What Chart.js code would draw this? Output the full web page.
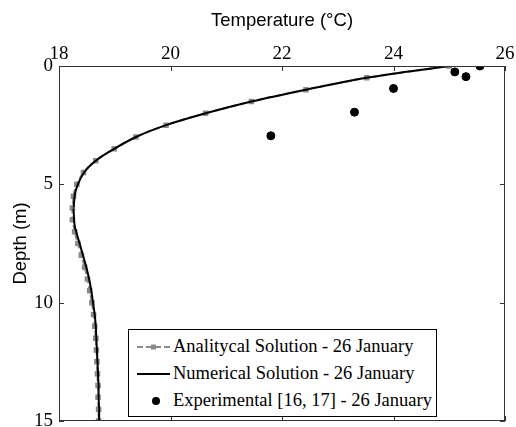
<!DOCTYPE html>
<html>
<head>
<meta charset="utf-8">
<script src="https://cdn.jsdelivr.net/npm/chart.js@4.4.1/dist/chart.umd.min.js"></script>
<style>
    html, body { margin: 0; padding: 0; background: #fff; }
    #wrap { position: relative; width: 516px; height: 427px; }
    #chart { display: block; }
    #legend {
        position: absolute; left: 128px; top: 329px; width: 307px; height: 86px;
        border: 1px solid #000; background: #fff;
        font-family: "Liberation Serif", "Times New Roman", serif; font-size: 18.5px; color: #000;
    }
    .legend-item { position: absolute; left: 0; height: 27px; display: flex; align-items: center; white-space: nowrap; }
    .legend-item svg { margin-left: 8px; margin-right: 3px; }
</style>
</head>
<body>
<div id="wrap">
    <canvas id="chart" width="516" height="427"></canvas>
    <div id="legend"></div>
</div>
<script>
// Depth (m), every 0.5 m
const depth = [0, 0.5, 1, 1.5, 2, 2.5, 3, 3.5, 4, 4.5, 5, 5.5, 6, 6.5, 7, 7.5,
    8, 8.5, 9, 9.5, 10, 10.5, 11, 11.5, 12, 12.5, 13, 13.5, 14, 14.5, 15];

// Temperature (°C)
const analytical = [25.0, 23.52, 22.43, 21.45, 20.63, 19.92, 19.38, 18.99, 18.66, 18.44,
    18.32, 18.26, 18.24, 18.24, 18.28, 18.34, 18.40, 18.46, 18.51, 18.55,
    18.59, 18.62, 18.64, 18.66, 18.67, 18.68, 18.69, 18.70, 18.70, 18.71, 18.71];
const numerical = [25.0, 23.52, 22.43, 21.45, 20.63, 19.92, 19.38, 18.99, 18.66, 18.45,
    18.34, 18.28, 18.26, 18.27, 18.31, 18.37, 18.43, 18.49, 18.54, 18.58,
    18.61, 18.64, 18.66, 18.67, 18.68, 18.69, 18.70, 18.71, 18.71, 18.72, 18.72];

// Experimental [16, 17]
const expDepth = [0, 0.25, 0.45, 0.95, 1.95, 2.95];
const expTemp = [25.55, 25.1, 25.3, 24.0, 23.3, 21.8];

const xTicks = [18, 20, 22, 24, 26];
const yTicks = [0, 5, 10, 15];

const labels = {
    analytical: 'Analitycal Solution - 26 January',
    numerical: 'Numerical Solution - 26 January',
    experimental: 'Experimental [16, 17] - 26 January'
};

function toPoints(xs, ys) {
    return xs.map((x, i) => ({ x: x, y: ys[i] }));
}

// Box around the plot and inward tick marks on all four sides
const boxTicks = {
    id: 'boxTicks',
    afterDraw(chart) {
        const { ctx, chartArea: a, scales } = chart;
        const len = 5;
        ctx.save();
        ctx.strokeStyle = '#333';
        ctx.lineWidth = 1;
        ctx.strokeRect(a.left + 0.5, a.top + 0.5, a.right - a.left - 1, a.bottom - a.top - 1);
        ctx.beginPath();
        xTicks.forEach(v => {
            const px = Math.round(scales.x.getPixelForValue(v)) + 0.5;
            ctx.moveTo(px, a.top); ctx.lineTo(px, a.top + len);
            ctx.moveTo(px, a.bottom); ctx.lineTo(px, a.bottom - len);
        });
        yTicks.forEach(v => {
            const py = Math.round(scales.y.getPixelForValue(v)) + 0.5;
            ctx.moveTo(a.left, py); ctx.lineTo(a.left + len, py);
            ctx.moveTo(a.right, py); ctx.lineTo(a.right - len, py);
        });
        ctx.stroke();
        ctx.restore();
    }
};

const tickFont = { family: '"Liberation Serif", "Times New Roman", serif', size: 19 };
const titleFont = { family: '"Liberation Sans", Arial, sans-serif', size: 18.5 };

function sample(kind) {
    if (kind === 'analytical') {
        return '<svg width="33" height="10"><line x1="0" y1="5" x2="33" y2="5" stroke="#8a8a8a" stroke-width="2" stroke-dasharray="6,3"/>' +
            '<rect x="14" y="2.5" width="5" height="5" fill="#8a8a8a"/></svg>';
    }
    if (kind === 'numerical') {
        return '<svg width="33" height="10"><line x1="0" y1="5" x2="33" y2="5" stroke="#000" stroke-width="2"/></svg>';
    }
    return '<svg width="33" height="10"><circle cx="19" cy="5" r="4" fill="#000"/></svg>';
}

// Legend inside the plot, like the original figure
document.getElementById('legend').innerHTML = ['analytical', 'numerical', 'experimental'].map((k, i) => `
    <div class="legend-item" style="top: ${3 + i * 27}px">${sample(k)}<span>${labels[k]}</span></div>
`).join('');

function drawChart() {
    new Chart(document.getElementById('chart'), {
        type: 'scatter',
        data: {
            datasets: [
                {
                    label: labels.experimental,
                    data: toPoints(expTemp, expDepth),
                    showLine: false,
                    pointStyle: 'circle',
                    pointRadius: 4,
                    backgroundColor: '#000',
                    borderColor: '#000'
                },
                {
                    label: labels.numerical,
                    data: toPoints(numerical, depth),
                    showLine: true,
                    borderColor: '#000',
                    borderWidth: 2,
                    pointRadius: 0,
                    cubicInterpolationMode: 'monotone'
                },
                {
                    label: labels.analytical,
                    data: toPoints(analytical, depth),
                    showLine: true,
                    borderColor: '#8a8a8a',
                    borderWidth: 2,
                    borderDash: [6, 3],
                    pointStyle: 'rect',
                    pointRadius: 2.5,
                    backgroundColor: '#8a8a8a',
                    pointBorderColor: '#8a8a8a',
                    cubicInterpolationMode: 'monotone'
                }
            ]
        },
        options: {
            responsive: false,
            animation: false,
            layout: { padding: { left: 0, right: 11, top: 0, bottom: 4 } },
            plugins: {
                legend: { display: false },
                tooltip: { enabled: false }
            },
            scales: {
                x: {
                    type: 'linear',
                    position: 'top',
                    min: 18,
                    max: 26,
                    afterBuildTicks: s => { s.ticks = xTicks.map(v => ({ value: v })); },
                    afterFit: s => { s.height = 66; s.paddingLeft = 0; s.paddingRight = 0; },
                    grid: { display: false, drawTicks: false },
                    border: { display: false },
                    ticks: { font: tickFont, color: '#000', padding: 1, maxRotation: 0 },
                    title: { display: true, text: 'Temperature (°C)', font: titleFont, color: '#000', padding: { top: 10, bottom: 0 } }
                },
                y: {
                    type: 'linear',
                    reverse: true,
                    min: 0,
                    max: 15,
                    afterBuildTicks: s => { s.ticks = yTicks.map(v => ({ value: v })); },
                    afterFit: s => { s.width = 59; s.paddingTop = 0; s.paddingBottom = 0; },
                    grid: { display: false, drawTicks: false },
                    border: { display: false },
                    ticks: { font: tickFont, color: '#000', padding: 6 },
                    title: { display: true, text: 'Depth (m)', font: titleFont, color: '#000', padding: { top: 10, bottom: 0 } }
                }
            }
        },
        plugins: [boxTicks]
    });
}

Promise.all([
    document.fonts.load('19px "Liberation Serif"'),
    document.fonts.load('18px "Liberation Sans"')
]).then(drawChart, drawChart);
</script>
</body>
</html>
